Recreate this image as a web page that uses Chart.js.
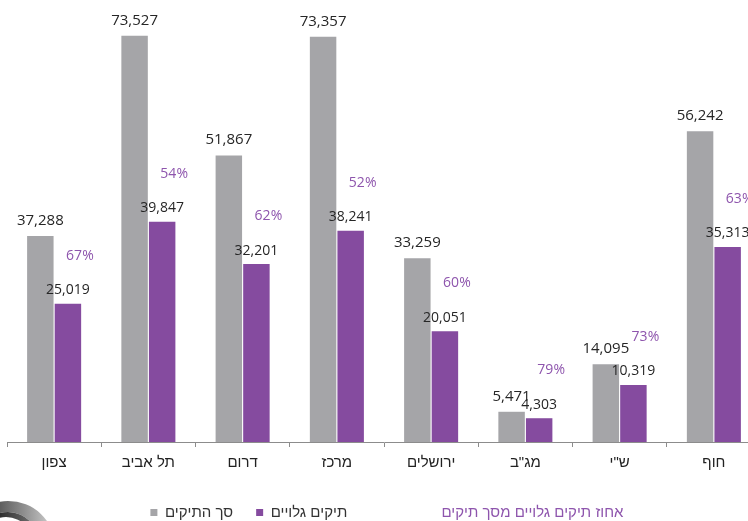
<!DOCTYPE html>
<html>
<head>
<meta charset="utf-8">
<script src="https://cdn.jsdelivr.net/npm/chart.js@4/dist/chart.umd.min.js"></script>
<style>
html,body{margin:0;padding:0;background:#fff;overflow:hidden;width:748px;height:521px;}
#wrap{position:relative;width:793px;height:521px;}
</style>
</head>
<body>
<div id="wrap"><canvas id="c" width="793" height="521"></canvas></div>
<script>
const categories = ['צפון', 'תל אביב', 'דרום', 'מרכז', 'ירושלים', 'מג"ב', 'ש"י', 'חוף'];
const totalFiles = [37288, 73527, 51867, 73357, 33259, 5471, 14095, 56242];
const revealedFiles = [25019, 39847, 32201, 38241, 20051, 4303, 10319, 35313];
const revealedPercent = [67, 54, 62, 52, 60, 79, 73, 63];
const seriesNames = ['סך התיקים', 'תיקים גלויים', 'אחוז תיקים גלויים מסך תיקים'];

const GRAY = '#A5A5A8';
const PURPLE = '#854B9F';
const PCT = '#8E55AD';
const LABEL = '#262626';
const NUM_FONT = "'Open Sans', Lato, sans-serif";
const HEB_FONT = "'Liberation Sans', 'DejaVu Sans', sans-serif";

const fmt = v => v.toLocaleString('en-US');

const labelsPlugin = {
  id: 'valueLabels',
  afterDatasetsDraw(chart) {
    const ctx = chart.ctx;
    ctx.save();
    ctx.textAlign = 'center';
    ctx.textBaseline = 'alphabetic';
    const m0 = chart.getDatasetMeta(0), m1 = chart.getDatasetMeta(1);
    m0.data.forEach((bar, i) => {
      ctx.font = '15px ' + NUM_FONT;
      ctx.fillStyle = LABEL;
      ctx.fillText(fmt(totalFiles[i]), bar.x, bar.y - 11);
    });
    m1.data.forEach((bar, i) => {
      ctx.font = '14px ' + NUM_FONT;
      ctx.fillStyle = LABEL;
      ctx.fillText(fmt(revealedFiles[i]), bar.x, bar.y - 9.5);
      ctx.fillStyle = PCT;
      ctx.fillText(revealedPercent[i] + '%', bar.x + 12, bar.y - 44);
    });
    ctx.restore();
  }
};

const swooshPlugin = {
  id: 'swoosh',
  afterDraw(chart) {
    const ctx = chart.ctx;
    ctx.save();
    const g = ctx.createLinearGradient(0, 0, 48, 0);
    g.addColorStop(0, '#5e5e5e');
    g.addColorStop(0.5, '#8f8f8f');
    g.addColorStop(1, '#c4c4c4');
    ctx.beginPath();
    ctx.ellipse(8, 545, 46.5, 44, 0, 0, Math.PI * 2);
    ctx.ellipse(8, 548, 33, 36, 0, 0, Math.PI * 2, true);
    ctx.fillStyle = g;
    ctx.fill('evenodd');
    const g2 = ctx.createLinearGradient(0, 0, 30, 0);
    g2.addColorStop(0, '#2e2e2e');
    g2.addColorStop(1, '#6a6a6a');
    ctx.beginPath();
    ctx.ellipse(8, 548, 33, 36, 0, 0, Math.PI * 2);
    ctx.ellipse(6, 552, 31, 35, 0, 0, Math.PI * 2, true);
    ctx.fillStyle = g2;
    ctx.fill('evenodd');
    ctx.restore();
  }
};

const LEG_PAD = 23;

new Chart(document.getElementById('c'), {
  type: 'bar',
  data: {
    labels: categories,
    datasets: [
      { label: seriesNames[0], data: totalFiles, backgroundColor: GRAY, borderWidth: 0,
        categoryPercentage: 0.585, barPercentage: 0.96 },
      { label: seriesNames[1], data: revealedFiles, backgroundColor: PURPLE, borderWidth: 0,
        categoryPercentage: 0.585, barPercentage: 0.96 }
    ]
  },
  options: {
    responsive: false,
    animation: false,
    devicePixelRatio: 1,
    layout: { padding: { left: 7, right: 7, top: 0, bottom: -9 } },
    scales: {
      x: {
        grid: { display: true, drawOnChartArea: false, drawTicks: true, tickLength: 5, color: '#8c8c8c', offset: true },
        border: { display: true, color: '#8c8c8c', width: 1 },
        ticks: { color: '#222', font: { family: HEB_FONT, size: 15 }, padding: 7, maxRotation: 0, autoSkip: false },
        afterFit(scale) { scale.height = 64 - LEG_PAD - 1; }
      },
      y: {
        position: 'right',
        min: 0, max: 80000,
        grid: { display: false },
        border: { display: false },
        ticks: { display: false },
        afterFit(scale) { scale.width = 25; }
      }
    },
    plugins: {
      tooltip: { enabled: false },
      legend: {
        position: 'bottom',
        align: 'center',
        labels: {
          boxWidth: 7,
          boxHeight: 7,
          padding: LEG_PAD,
          font: { family: HEB_FONT, size: 15 },
          color: '#333',
          generateLabels(chart) {
            const items = chart.data.datasets.map((ds, i) => ({
              text: ds.label, fillStyle: ds.backgroundColor, strokeStyle: ds.backgroundColor,
              lineWidth: 0, hidden: false, datasetIndex: i, fontColor: '#333'
            }));
            items.push({ text: '\u2003\u2003\u2003\u2002 ' + seriesNames[2] + ' \u2003', fillStyle: 'rgba(0,0,0,0)',
              strokeStyle: 'rgba(0,0,0,0)', lineWidth: 0, hidden: false, fontColor: PCT });
            return items;
          }
        }
      }
    }
  },
  plugins: [labelsPlugin, swooshPlugin]
});
</script>
</body>
</html>
